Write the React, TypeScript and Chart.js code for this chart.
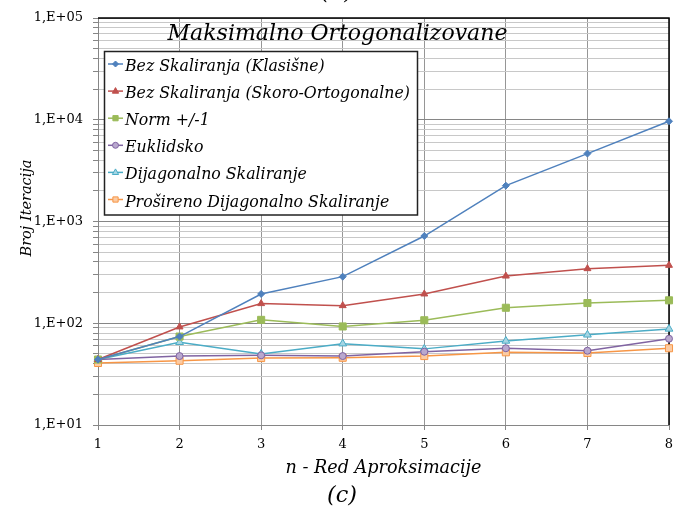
import React, { useEffect, useRef } from 'react';
import { Chart, registerables } from 'chart.js';
Chart.register(...registerables);

const FONT = '"DejaVu Serif", "Liberation Serif", serif';

const xLabels = ['1', '2', '3', '4', '5', '6', '7', '8'];
const seriesNames = [
  'Bez Skaliranja (Klasišne)',
  'Bez Skaliranja (Skoro-Ortogonalne)',
  'Norm +/-1',
  'Euklidsko',
  'Dijagonalno Skaliranje',
  'Prošireno Dijagonalno Skaliranje',
];
const klasicne = [44, 74, 194, 287, 720, 2250, 4650, 9660];
const skoroOrtogonalne = [44, 92, 156, 149, 194, 291, 344, 371];
const normPlusMinus1 = [44, 74, 108, 93, 107, 142, 158, 168];
const euklidsko = [44, 47.6, 48.4, 47.6, 52.5, 56.8, 53.7, 70.5];
const dijagonalno = [44, 65, 50, 63, 56, 67, 77, 88];
const prosireno = [40.7, 42.8, 45.5, 45.8, 47.6, 51.8, 51, 56.8];
const yMajorTicks = [10, 100, 1000, 10000, 100000];
const yMajorLabels = ['1,E+01', '1,E+02', '1,E+03', '1,E+04', '1,E+05'];
const chartTitle = 'Maksimalno Ortogonalizovane';
const yTitle = 'Broj Iteracija';
const xTitle = 'n - Red Aproksimacije';
const topCaption = '(b)';
const bottomCaption = '(c)';

const seriesStyles = [
  { color: '#4F81BD', fill: '#4F81BD', point: 'rectRot', radius: 3.5, legendR: 3 },
  { color: '#C0504D', fill: '#C0504D', point: 'triangle', radius: 4, legendR: 3.5 },
  { color: '#9BBB59', fill: '#9BBB59', point: 'rect', radius: 5, legendR: 3.5 },
  { color: '#8064A2', fill: '#B9A8CE', point: 'circle', radius: 3.5, legendR: 3 },
  { color: '#4BACC6', fill: '#A5D5E3', point: 'triangle', radius: 4.5, legendR: 3.5 },
  { color: '#F79646', fill: '#FBCBA3', point: 'rect', radius: 5, legendR: 3.5 },
];

const allYTicks: number[] = [];
yMajorTicks.forEach((m, i) => {
  if (i < yMajorTicks.length - 1) {
    for (let k = 1; k < 10; k++) allYTicks.push(m * k);
  } else allYTicks.push(m);
});

function fitFont(ctx: CanvasRenderingContext2D, text: string, target: number, italic: boolean) {
  const base = 20;
  const st = italic ? 'italic ' : '';
  ctx.font = `${st}${base}px ${FONT}`;
  const w = ctx.measureText(text).width;
  const size = (base * target) / w;
  return `${st}${size.toFixed(2)}px ${FONT}`;
}

function drawMarker(ctx: CanvasRenderingContext2D, style: string, x: number, y: number, r: number) {
  ctx.beginPath();
  if (style === 'circle') {
    ctx.arc(x, y, r, 0, Math.PI * 2);
  } else if (style === 'rect') {
    const s = r * 0.75;
    ctx.rect(x - s, y - s, 2 * s, 2 * s);
  } else if (style === 'rectRot') {
    ctx.moveTo(x, y - r);
    ctx.lineTo(x + r, y);
    ctx.lineTo(x, y + r);
    ctx.lineTo(x - r, y);
    ctx.closePath();
  } else {
    ctx.moveTo(x, y - r);
    ctx.lineTo(x + r * 0.9, y + r * 0.6);
    ctx.lineTo(x - r * 0.9, y + r * 0.6);
    ctx.closePath();
  }
  ctx.fill();
  ctx.stroke();
}

const decorPlugin = {
  id: 'decor',
  beforeDatasetsDraw(chart: any) {
    const { ctx, chartArea: a } = chart;
    ctx.save();
    ctx.strokeStyle = '#000';
    ctx.lineWidth = 1.5;
    ctx.beginPath();
    ctx.moveTo(a.left, a.top);
    ctx.lineTo(a.right, a.top);
    ctx.lineTo(a.right, a.bottom);
    ctx.stroke();
    ctx.restore();
  },
  afterDraw(chart: any) {
    const { ctx, chartArea: a } = chart;
    ctx.save();
    ctx.fillStyle = '#000';
    ctx.textBaseline = 'alphabetic';

    // chart title
    ctx.textAlign = 'center';
    ctx.font = fitFont(ctx, chartTitle, 340, true);
    ctx.fillText(chartTitle, 337.5, 39.5);

    // captions
    const capFont = fitFont(ctx, bottomCaption, 30, true);
    ctx.font = capFont;
    ctx.fillText(bottomCaption, 342, 502);
    ctx.fillText(topCaption, 337, -1.5);

    // x title
    ctx.font = fitFont(ctx, xTitle, 196, true);
    ctx.fillText(xTitle, (a.left + a.right) / 2, 473);

    // y title
    ctx.save();
    ctx.translate(31, 208);
    ctx.rotate(-Math.PI / 2);
    ctx.font = fitFont(ctx, yTitle, 97, true);
    ctx.fillText(yTitle, 0, 0);
    ctx.restore();

    // legend
    const lx = 104.5, ly = 51.5, lw = 313, lh = 163.5;
    ctx.fillStyle = '#fff';
    ctx.fillRect(lx, ly, lw, lh);
    ctx.strokeStyle = '#222';
    ctx.lineWidth = 1.5;
    ctx.strokeRect(lx, ly, lw, lh);
    ctx.font = fitFont(ctx, seriesNames[1], 285, true);
    ctx.textAlign = 'left';
    chart.data.datasets.forEach((ds: any, i: number) => {
      const base = 71 + i * 27.1;
      const st = seriesStyles[i];
      const my = base - 7;
      ctx.strokeStyle = st.color;
      ctx.lineWidth = 1.5;
      ctx.beginPath();
      ctx.moveTo(108, my);
      ctx.lineTo(123, my);
      ctx.stroke();
      ctx.fillStyle = st.fill;
      ctx.lineWidth = 1;
      drawMarker(ctx, st.point, 115.5, my, st.legendR);
      ctx.fillStyle = '#000';
      ctx.fillText(ds.label, 125, base);
    });
    ctx.restore();
  },
};

export default function App() {
  const ref = useRef<HTMLCanvasElement>(null);
  useEffect(() => {
    const canvas = ref.current!;
    const seriesData = [klasicne, skoroOrtogonalne, normPlusMinus1, euklidsko, dijagonalno, prosireno];
    const datasets = seriesData.map((d, i) => ({
      label: seriesNames[i],
      data: d,
      borderColor: seriesStyles[i].color,
      backgroundColor: seriesStyles[i].fill,
      pointBorderColor: seriesStyles[i].color,
      pointBackgroundColor: seriesStyles[i].fill,
      pointStyle: seriesStyles[i].point as any,
      pointRadius: seriesStyles[i].radius,
      pointBorderWidth: 1,
      borderWidth: 1.5,
      tension: 0,
      fill: false,
    }));
    const chart = new Chart(canvas, {
      type: 'line',
      data: { labels: xLabels, datasets },
      options: {
        responsive: false,
        animation: false,
        devicePixelRatio: 1,
        layout: { padding: { top: 18, right: 6, left: 0, bottom: 0 } },
        plugins: {
          legend: { display: false },
          tooltip: { enabled: false },
          title: { display: false },
        },
        scales: {
          x: {
            type: 'category',
            offset: false,
            grid: { color: '#969696', tickLength: 5, tickColor: '#868686' },
            border: { color: '#868686' },
            ticks: {
              font: { family: FONT, size: 13 },
              color: '#000',
              padding: 7,
              maxRotation: 0,
              autoSkip: false,
            },
            afterFit: (s: any) => {
              s.height = 85;
              s.paddingLeft = 0;
              s.paddingRight = 0;
            },
          },
          y: {
            type: 'logarithmic',
            min: 10,
            max: 100000,
            afterBuildTicks: (s: any) => {
              s.ticks = allYTicks.map((v) => ({ value: v }));
            },
            grid: {
              color: (c: any) => (c.tick && yMajorTicks.includes(c.tick.value) ? '#868686' : '#c8c8c8'),
              tickLength: 5,
              tickColor: '#868686',
            },
            border: { color: '#868686' },
            ticks: {
              font: { family: FONT, size: 13 },
              color: '#000',
              padding: 10,
              autoSkip: false,
              callback: (v: any) => {
                const i = yMajorTicks.indexOf(Number(v));
                return i >= 0 ? yMajorLabels[i] : '';
              },
            },
            afterFit: (s: any) => {
              s.width = 98;
              s.paddingTop = 0;
              s.paddingBottom = 0;
            },
          },
        },
      },
      plugins: [decorPlugin],
    });
    return () => chart.destroy();
  }, []);
  return (
    <div style={{ position: 'absolute', left: 0, top: 0, width: 675, height: 510, background: '#fff' }}>
      <canvas ref={ref} width={675} height={510} style={{ display: 'block' }} />
    </div>
  );
}
